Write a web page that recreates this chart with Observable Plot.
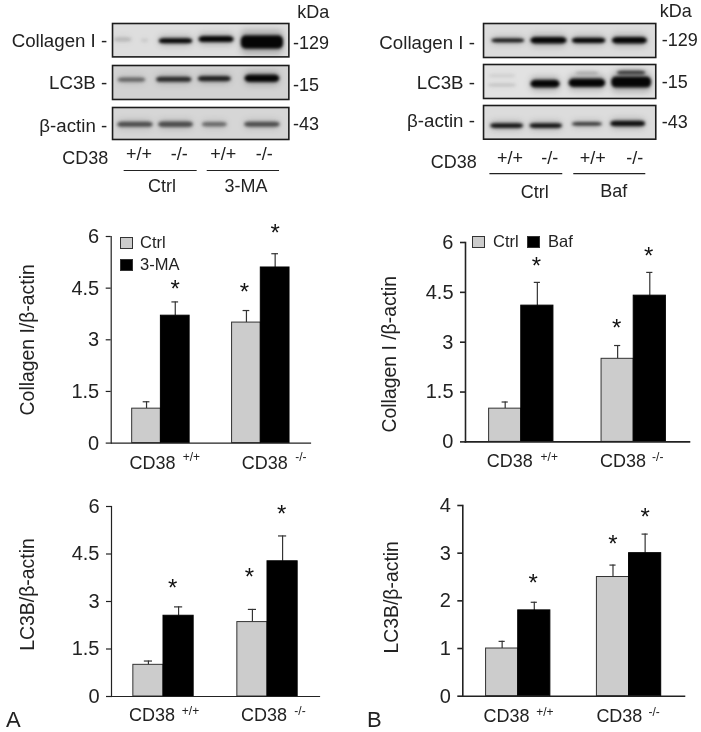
<!DOCTYPE html>
<html>
<head>
<meta charset="utf-8">
<script src="https://cdn.jsdelivr.net/npm/d3@7"></script>
<script src="https://cdn.jsdelivr.net/npm/@observablehq/plot@0.6"></script>
<style>
  html, body { margin: 0; padding: 0; background: #fff; }
  #fig { position: relative; width: 701px; height: 732px; overflow: hidden; filter: blur(0.3px);
         font-family: "Liberation Sans", Arial, sans-serif; color: #222; }
  #fig svg { position: absolute; overflow: visible; background: transparent; }
  .t { position: absolute; white-space: nowrap; line-height: 1; }
  .sw { position: absolute; box-sizing: border-box; width: 12.5px; height: 12px; border: 1px solid #333; }
</style>
</head>
<body>
<div id="fig"></div>
<script>
// ---- Bar chart data ----
const genotypes = ["+/+", "-/-"];
const collagenA = [1, 3.7, 3.5, 5.1];
const collagenAErr = [1.2, 4.1, 3.85, 5.5];
const collagenAStar = [null, 4.52, 4.42, 6.13];
const lc3bA = [1, 2.55, 2.35, 4.27];
const lc3bAErr = [1.12, 2.83, 2.75, 5.07];
const lc3bAStar = [null, 3.47, 3.8, 5.8];
const collagenB = [1, 4.1, 2.5, 4.4];
const collagenBErr = [1.2, 4.8, 2.9, 5.1];
const collagenBStar = [null, 5.32, 3.46, 5.62];
const lc3bB = [1, 1.8, 2.5, 3];
const lc3bBErr = [1.15, 1.97, 2.75, 3.4];
const lc3bBStar = [null, 2.4, 3.22, 3.78];
const ticks15 = [0, 1.5, 3, 4.5, 6];
const ticks1 = [0, 1, 2, 3, 4];

// ---- Blot data: band centre, width, height (percent of the membrane strip), density ----
const proteins = ["Collagen I -", "LC3B -", "β-actin -"];
const sizes = ["-129", "-15", "-43"];
const laneLabels = ["+/+", "-/-", "+/+", "-/-"];
const blotColA = { x: [6, 18.5, 36, 59, 85], w: [10, 4, 19, 20, 24], y: [49, 52, 53, 48, 57], h: [11, 8, 15, 18, 40], d: [.16, .1, 1, 1, 1] };
const blotLcA  = { x: [11, 35, 58, 85], w: [15.6, 20, 18.7, 19.7], y: [43, 42, 40, 39], h: [13, 15, 15, 22], d: [.5, .8, .85, 1] };
const blotActA = { x: [13, 36, 58, 85], w: [20, 19.6, 14, 20], y: [54, 54, 54, 54], h: [16, 17, 14, 15], d: [.62, .62, .48, .62] };
const blotColB = { x: [14.4, 38, 61.3, 85], w: [19, 21, 19.4, 20.3], y: [51, 51, 51, 51], h: [11, 19, 15, 19], d: [.95, 1, 1, 1] };
const blotLcB  = { x: [11, 11, 36, 60.3, 60.3, 86, 86], w: [15.5, 16, 17, 21.3, 13.4, 23.2, 16.4], y: [34, 62, 58, 55, 26, 53, 25], h: [5, 6, 23, 25, 7, 33, 11], d: [.12, .16, 1, 1, .22, 1, .75] };
const blotActB = { x: [13.7, 36.4, 60.3, 84], w: [19, 18.8, 17.4, 20.2], y: [61, 61, 56, 55], h: [14, 14, 10, 16], d: [.92, .92, .82, .95] };

const fig = document.getElementById("fig");
const FONT = '"Liberation Sans", Arial, sans-serif';

function place(svg, left, top) {
  svg.style.left = left + "px";
  svg.style.top = top + "px";
  fig.appendChild(svg);
}

function strip(o) {
  const rows = o.band.x.map((x, i) => ({
    x1: x - o.band.w[i] / 2, x2: x + o.band.w[i] / 2,
    y1: o.band.y[i] - o.band.h[i] / 2, y2: o.band.y[i] + o.band.h[i] / 2,
    halo1: o.band.y[i] - o.band.h[i] * 0.9, halo2: o.band.y[i] + o.band.h[i] * 0.9,
    d: o.band.d[i]
  }));
  const marks = [
    Plot.frame({ fill: o.bg, stroke: "none" }),
    Plot.rect(rows, { x1: "x1", x2: "x2", y1: "halo1", y2: "halo2", fill: "#333", fillOpacity: d => d.d * 0.3, rx: 5, imageFilter: "blur(3px)" }),
    Plot.rect(rows, { x1: "x1", x2: "x2", y1: "y1", y2: "y2", fill: "#050505", fillOpacity: "d", rx: 5, imageFilter: "blur(1.5px)" }),
    Plot.frame({ stroke: "#1c1c1c", strokeWidth: 1.6 }),
    Plot.text([o.name], { x: o.lx, y: o.ly, text: d => d, textAnchor: "end", lineAnchor: "bottom", fontSize: 18.7, fill: "#222" }),
    Plot.text([o.size], { x: o.rx, y: o.ry, text: d => d, textAnchor: "start", lineAnchor: "bottom", fontSize: 18, fill: "#222" })
  ];
  if (o.kda) marks.push(Plot.text(["kDa"], { x: o.kda[0], y: o.kda[1], text: d => d, textAnchor: "start", lineAnchor: "bottom", fontSize: 18, fill: "#222" }));
  const svg = Plot.plot({
    width: o.w, height: o.h, margin: 0,
    style: { background: "transparent", fontFamily: FONT, overflow: "visible" },
    x: { domain: [0, 100], axis: null },
    y: { domain: [0, 100], axis: null, reverse: true },
    marks
  });
  place(svg, o.left, o.top);
}

function laneRow(o) {
  const lanes = o.lanes.map((x, i) => ({ x, t: laneLabels[i] }));
  const svg = Plot.plot({
    width: o.w, height: 55, margin: 0,
    style: { background: "transparent", fontFamily: FONT, overflow: "visible" },
    x: { domain: [0, 100], axis: null },
    y: { domain: [0, 100], axis: null, reverse: true },
    marks: [
      Plot.text(lanes, { x: "x", y: o.laneY, text: "t", lineAnchor: "bottom", fontSize: 18, fill: "#222" }),
      Plot.text(["CD38"], { x: o.cdX, y: o.cdY, text: d => d, textAnchor: "end", lineAnchor: "bottom", fontSize: 18, fill: "#222" }),
      Plot.ruleY(o.groups, { x1: "a", x2: "b", y: () => o.ruleY, stroke: "#222", strokeWidth: 1.2 }),
      Plot.text(o.groups, { x: "c", y: d => d.y, text: "t", lineAnchor: "bottom", fontSize: 18, fill: "#222" })
    ]
  });
  place(svg, o.left, o.top);
}

function barPanel(o) {
  const series = ["a", "b"];
  const data = o.values.map((v, i) => ({
    g: genotypes[i >> 1], s: series[i & 1], v, err: o.err[i], star: o.star[i], sdx: (o.starDx || [0, 0, 0, 0])[i]
  }));
  const mt = 20, mb = 44, ph = o.y0 - o.yTop;
  const labelMarks = genotypes.flatMap((g, i) => [
    Plot.text([g], { fx: d => d, frameAnchor: "bottom", lineAnchor: "bottom", text: () => "CD38", fontSize: 18, fill: "#222", dx: o.cdDx[i], dy: o.cdDy }),
    Plot.text([g], { fx: d => d, frameAnchor: "bottom", lineAnchor: "bottom", text: d => d, fontSize: 12, fill: "#222", dx: o.supDx[i], dy: o.supDy })
  ]);
  const starMarks = data.filter(d => d.star != null).map(d =>
    Plot.text([d], { fx: "g", x: "s", y: "star", text: () => "*", fontSize: 24, dy: 1.5, dx: d.sdx, fill: "#111" }));
  const bars = Plot.plot({
    width: o.xEnd, height: ph + mt + mb,
    marginLeft: o.axisX, marginRight: 0, marginTop: mt, marginBottom: mb,
    style: { background: "transparent", fontFamily: FONT, overflow: "visible", color: "#222" },
    fx: { domain: genotypes, padding: o.inner, paddingOuter: o.outer, align: 0.5, round: false, label: null, axis: null },
    x: { domain: series, padding: 0, round: false, axis: null },
    y: { domain: [0, o.yMax], range: [ph + mt, mt], axis: null },
    marks: [
      Plot.ruleX(data, { fx: "g", x: "s", y1: "v", y2: "err", stroke: "#333", strokeWidth: 1.2 }),
      Plot.tickY(data, { fx: "g", x: "s", y: "err", stroke: "#333", strokeWidth: 1.2, insetLeft: o.cap, insetRight: o.cap }),
      Plot.barY(data, { fx: "g", x: "s", y1: 0, y2: "v", fill: d => d.s === "a" ? "#cccccc" : "#000", stroke: d => d.s === "a" ? "#333" : "#000", strokeWidth: 1 }),
      ...starMarks,
      ...labelMarks
    ]
  });
  place(bars, 0, o.yTop - mt);
  const axis = Plot.plot({
    width: o.xEnd, height: ph + mt + mb,
    marginLeft: o.axisX, marginRight: 0, marginTop: mt, marginBottom: mb,
    style: { background: "transparent", fontFamily: FONT, overflow: "visible", color: "#222" },
    x: { domain: [0, 1], axis: null },
    y: { domain: [0, o.yMax], range: [ph + mt, mt] },
    marks: [
      Plot.frame({ anchor: "left", stroke: "#222", strokeWidth: o.sw }),
      Plot.frame({ anchor: "bottom", stroke: "#222", strokeWidth: o.sw }),
      Plot.axisY({ ticks: o.ticks, tickFormat: d => String(d), tickSize: 5, tickPadding: 7, fontSize: 20, fill: "#222", stroke: "#222", strokeWidth: o.sw,
                   label: o.title, labelAnchor: "center", labelArrow: "none", labelOffset: o.axisX - o.titleX })
    ]
  });
  Array.from(axis.querySelectorAll("text")).filter(t => t.textContent === o.title).forEach(t => {
    t.setAttribute("font-size", "19.4");
    t.setAttribute("dx", o.titleShift);
  });
  place(axis, 0, o.yTop - mt);
}

function addText(s, left, top, size) {
  const d = document.createElement("div");
  d.className = "t";
  d.textContent = s;
  d.style.left = left + "px";
  d.style.top = top + "px";
  d.style.fontSize = size + "px";
  fig.appendChild(d);
}
function addSwatch(color, left, top) {
  const d = document.createElement("div");
  d.className = "sw";
  d.style.background = color;
  d.style.left = left + "px";
  d.style.top = top + "px";
  fig.appendChild(d);
}

// ---- Panel A blots ----
strip({ band: blotColA, left: 112.3, top: 23.3, w: 176.4, h: 33.4, bg: "#dedede", name: proteins[0], size: sizes[0], lx: -3, ly: 71, rx: 102.4, ry: 77, kda: [104.7, -16] });
strip({ band: blotLcA,  left: 112.3, top: 65, w: 176.4, h: 34, bg: "#d2d2d2", name: proteins[1], size: sizes[1], lx: -3, ly: 68, rx: 102.4, ry: 74 });
strip({ band: blotActA, left: 112.3, top: 107.3, w: 176.4, h: 32, bg: "#d6d6d6", name: proteins[2], size: sizes[2], lx: -3, ly: 77, rx: 102.4, ry: 71 });
laneRow({ left: 112.3, top: 145, w: 176.4, lanes: [15, 37.8, 62.8, 86], laneY: 27, cdX: -2.4, cdY: 33, ruleY: 45.5,
  groups: [{ a: 6.6, b: 48, c: 28, y: 85, t: "Ctrl" }, { a: 53.7, b: 94.7, c: 75.7, y: 85, t: "3-MA" }] });

// ---- Panel B blots ----
strip({ band: blotColB, left: 482.7, top: 23.3, w: 172.3, h: 34, bg: "#dcdcdc", name: proteins[0], size: sizes[0], lx: -5, ly: 76, rx: 103.5, ry: 67, kda: [102.3, -18.5] });
strip({ band: blotLcB,  left: 482.7, top: 64.3, w: 172.3, h: 34, bg: "#e2e2e2", name: proteins[1], size: sizes[1], lx: -5, ly: 73, rx: 103.5, ry: 70 });
strip({ band: blotActB, left: 482.7, top: 105, w: 172.3, h: 33.7, bg: "#dcdcdc", name: proteins[2], size: sizes[2], lx: -5, ly: 65, rx: 103.5, ry: 68 });
laneRow({ left: 482.7, top: 150, w: 172.3, lanes: [15.3, 38.5, 63.4, 87.8], laneY: 25, cdX: -3.9, cdY: 31, ruleY: 42,
  groups: [{ a: 3.7, b: 46, c: 29.8, y: 87, t: "Ctrl" }, { a: 52.4, b: 94.2, c: 75.6, y: 85, t: "Baf" }] });

// ---- Bar charts ----
barPanel({ values: collagenA, err: collagenAErr, star: collagenAStar, yMax: 6, ticks: ticks15, yTop: 235.7, y0: 442.3, axisX: 110.7, xEnd: 310, inner: .425, outer: .21, cap: 11, sw: 1.2, title: "Collagen I/β-actin", titleX: 20, titleShift: 0, starDx: [0, 0, -2, 0], cdDx: [-8.5, 4], supDx: [30.5, 40], cdDy: 25.7, supDy: 18 });
barPanel({ values: collagenB, err: collagenBErr, star: collagenBStar, yMax: 6, ticks: ticks15, yTop: 242.3, y0: 441.7, axisX: 465, xEnd: 689, inner: .428, outer: .21, cap: 13, sw: 1.6, title: "Collagen I /β-actin", titleX: 382, titleShift: -12, starDx: [0, -1, -1, -1], cdDx: [-11.6, -10.7], supDx: [28, 24], cdDy: 25.5, supDy: 19 });
barPanel({ values: lc3bA, err: lc3bAErr, star: lc3bAStar, yMax: 6, ticks: ticks15, yTop: 506, y0: 696, axisX: 111, xEnd: 319, inner: .42, outer: .21, cap: 11, sw: 1.2, title: "LC3B/β-actin", titleX: 20, titleShift: 7, starDx: [0, -6, -3, -1], cdDx: [-11.6, -3.5], supDx: [27, 32.5], cdDy: 24.7, supDy: 18 });
barPanel({ values: lc3bB, err: lc3bBErr, star: lc3bBStar, yMax: 4, ticks: ticks1, yTop: 505.3, y0: 696, axisX: 462.3, xEnd: 684, inner: .42, outer: .21, cap: 13, sw: 1.6, title: "LC3B/β-actin", titleX: 383.7, titleShift: 3.5, starDx: [0, -1, 0, 0], cdDx: [-11.7, -9.7], supDx: [26.7, 25], cdDy: 26.3, supDy: 20 });

// ---- Legends and panel letters ----
addSwatch("#cccccc", 120, 237); addText("Ctrl", 140, 234, 16.5);
addSwatch("#000", 120, 259);    addText("3-MA", 140, 256, 16.5);
addSwatch("#cccccc", 472, 236); addText("Ctrl", 493, 233, 16.5);
addSwatch("#000", 527, 236);    addText("Baf", 548, 233, 16.5);
addText("A", 6, 709, 22);
addText("B", 367, 709, 22);
</script>
</body>
</html>
